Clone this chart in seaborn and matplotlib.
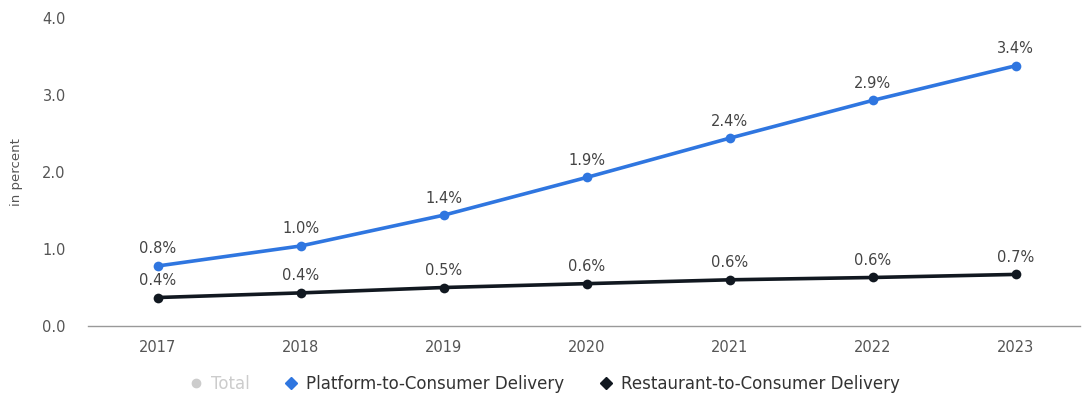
import pandas as pd
import seaborn as sns
import matplotlib.pyplot as plt
from matplotlib.lines import Line2D

years = ['2017', '2018', '2019', '2020', '2021', '2022', '2023']
platform = [0.78, 1.04, 1.44, 1.93, 2.44, 2.93, 3.38]
restaurant = [0.37, 0.43, 0.50, 0.55, 0.60, 0.63, 0.67]
platform_labels = ['0.8%', '1.0%', '1.4%', '1.9%', '2.4%', '2.9%', '3.4%']
restaurant_labels = ['0.4%', '0.4%', '0.5%', '0.6%', '0.6%', '0.6%', '0.7%']

df = pd.DataFrame({
    'year': years * 2,
    'value': platform + restaurant,
    'segment': ['Platform-to-Consumer Delivery'] * 7 + ['Restaurant-to-Consumer Delivery'] * 7,
})

sns.set_style('white')
plt.rcParams['font.family'] = ['DejaVu Sans']

fig = plt.figure(figsize=(10.84, 3.94), dpi=100)
ax = fig.add_axes([88 / 1084, 68 / 394, 992 / 1084, 308 / 394])

colors = {'Platform-to-Consumer Delivery': '#2f76e0',
          'Restaurant-to-Consumer Delivery': '#111820'}
sns.lineplot(data=df, x='year', y='value', hue='segment', palette=colors,
             marker='o', markersize=7, markeredgewidth=0, linewidth=2.6,
             legend=False, ax=ax)

for i in range(len(years)):
    ax.annotate(platform_labels[i], (i, platform[i]), xytext=(0, 9),
                textcoords='offset points', ha='center', fontsize=10.5, color='#444444')
    ax.annotate(restaurant_labels[i], (i, restaurant[i]), xytext=(0, 9),
                textcoords='offset points', ha='center', fontsize=10.5, color='#444444')

ax.set_xlim(-0.49, 6.45)
ax.set_ylim(0, 4)
ax.set_yticks([0, 1, 2, 3, 4])
ax.set_yticklabels(['0.0', '1.0', '2.0', '3.0', '4.0'])
ax.tick_params(axis='both', length=0, labelsize=10.5, colors='#555555')
ax.tick_params(axis='x', pad=10)
ax.tick_params(axis='y', pad=16)
ax.set_xlabel('')
ax.set_ylabel('in percent', fontsize=9.5, color='#555555')
ax.yaxis.set_label_coords(-0.066, 0.5)
for s in ['top', 'right', 'left']:
    ax.spines[s].set_visible(False)
ax.spines['bottom'].set_color('#999999')
ax.spines['bottom'].set_linewidth(1)

handles = [
    Line2D([], [], color='#cccccc', marker='o', markersize=6, linewidth=0),
    Line2D([], [], color='#2f76e0', marker='D', markersize=6.5, linewidth=0),
    Line2D([], [], color='#111820', marker='D', markersize=6.5, linewidth=0),
]
leg = fig.legend(handles, ['Total', 'Platform-to-Consumer Delivery', 'Restaurant-to-Consumer Delivery'],
                 loc='center', bbox_to_anchor=(0.5, 10 / 394), ncol=3, frameon=False,
                 fontsize=12, handletextpad=0.2, columnspacing=1.8, handlelength=1.4)
texts = leg.get_texts()
texts[0].set_color('#cccccc')
texts[1].set_color('#333333')
texts[2].set_color('#333333')

fig.savefig('out.png', dpi=100)
